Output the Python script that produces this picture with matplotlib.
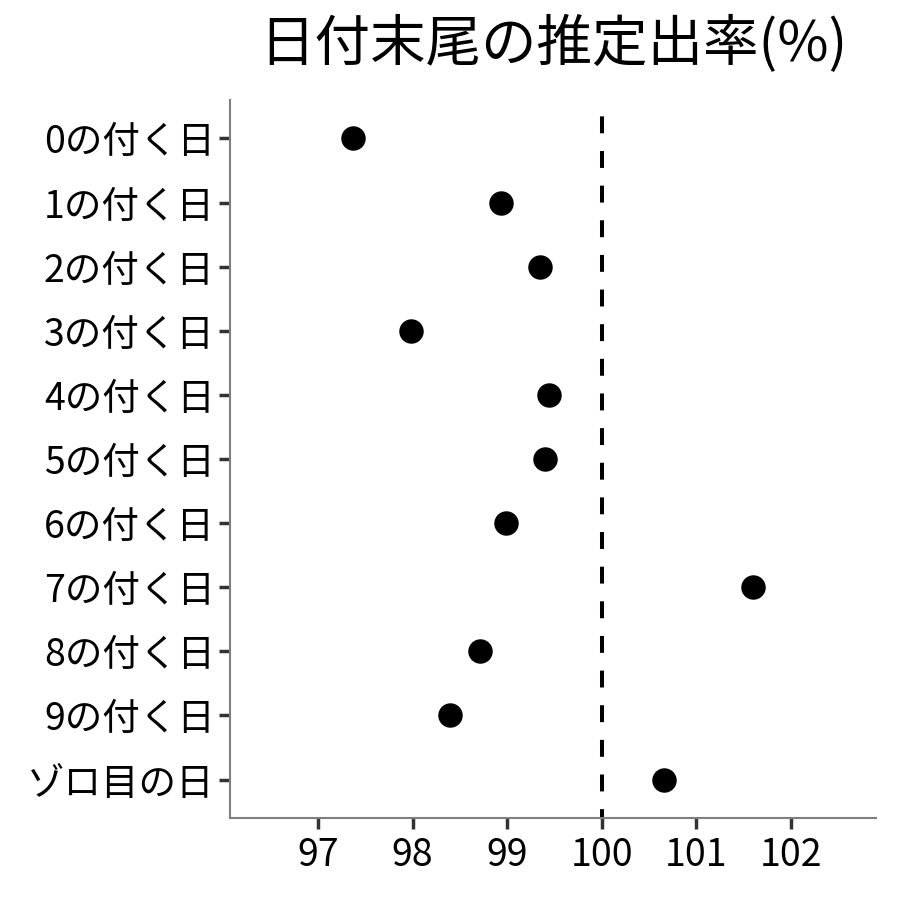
import matplotlib
matplotlib.use("Agg")
import matplotlib.pyplot as plt

plt.rcParams['font.family'] = ['Noto Sans CJK JP', 'DejaVu Sans']

categories = ["0の付く日", "1の付く日", "2の付く日", "3の付く日", "4の付く日",
              "5の付く日", "6の付く日", "7の付く日", "8の付く日", "9の付く日", "ゾロ目の日"]
values = [97.37, 98.93, 99.35, 97.98, 99.44, 99.40, 98.99, 101.60, 98.71, 98.40, 100.66]
xticks = [97, 98, 99, 100, 101, 102]
ref_value = 100
title = "日付末尾の推定出率(%)"

fig = plt.figure(figsize=(9, 9), dpi=100)
ax = fig.add_axes([230/900, 1 - 818/900, (876 - 230)/900, (818 - 100)/900])

ypos = list(range(len(categories)))
ax.scatter(values, ypos, s=310, color='black', zorder=3, linewidths=0)
ax.axvline(ref_value, color='black', linestyle=(2, (4.2, 4.4)), linewidth=2.9, zorder=2)

ax.set_xlim(96.07, 102.90)
ax.set_ylim(len(categories) - 0.4, -0.6)
ax.set_yticks(ypos)
ax.set_yticklabels(categories)
ax.set_xticks(xticks)
ax.set_xticklabels([str(x) for x in xticks])

for s in ['top', 'right']:
    ax.spines[s].set_visible(False)
for s in ['left', 'bottom']:
    ax.spines[s].set_color('#7f7f7f')
    ax.spines[s].set_linewidth(1.5)

ax.tick_params(axis='both', length=8, width=2.5, color='#333333', labelsize=27, labelcolor='black')
ax.tick_params(axis='y', pad=3)
ax.tick_params(axis='x', pad=5)

fig.text(553/900, 1 - 45/900, title, ha='center', va='center', fontsize=40)

fig.savefig("out.png", dpi=100, facecolor='white')
